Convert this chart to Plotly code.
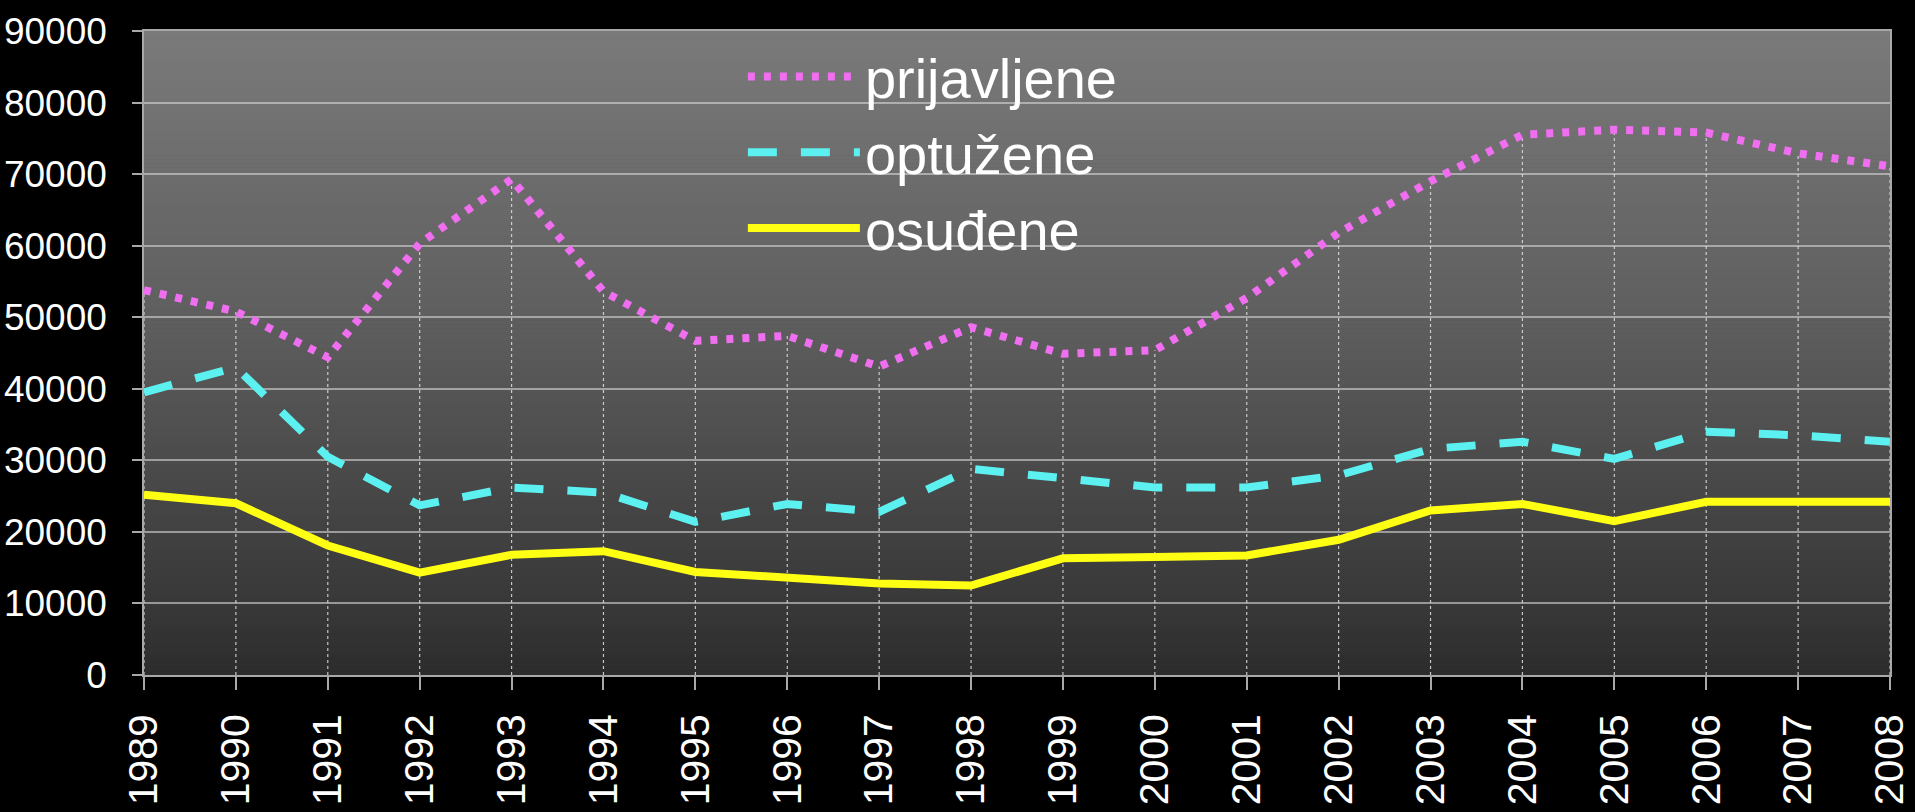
import plotly.graph_objects as go

years = list(range(1989, 2009))
prijavljene = [53800, 50800, 44400, 60300, 69300, 53600, 46700, 47400, 43100, 48600,
               44900, 45400, 52700, 61800, 69000, 75500, 76200, 75800, 72900, 71100]
optuzene = [39500, 43000, 30500, 23700, 26200, 25500, 21400, 23900, 22800, 28800,
            27500, 26200, 26200, 27900, 31600, 32600, 30200, 34000, 33500, 32600]
osudjene = [25200, 24000, 18100, 14300, 16800, 17300, 14400, 13500, 12800, 12500,
            16300, 16500, 16700, 18900, 23000, 23900, 21500, 24200, 24300, 24200]
series_names = ["prijavljene", "optužene", "osuđene"]
y_ticks = list(range(0, 90001, 10000))

FONT = "Liberation Sans, Arial, sans-serif"

fig = go.Figure()

# drop lines from the "prijavljene" series down to the axis
drop_x, drop_y = [], []
for yr, v in zip(years, prijavljene):
    drop_x += [yr, yr, None]
    drop_y += [0, v, None]
fig.add_trace(go.Scatter(x=drop_x, y=drop_y, mode="lines", showlegend=False,
                         hoverinfo="skip",
                         line=dict(color="rgba(225,225,225,0.85)", width=1.2, dash="3px,3px")))

fig.add_trace(go.Scatter(x=years, y=prijavljene, mode="lines", name=series_names[0],
                         line=dict(color="#f06ef0", width=8, dash="7px,9px")))
fig.add_trace(go.Scatter(x=years, y=optuzene, mode="lines", name=series_names[1],
                         line=dict(color="#5cf0f0", width=8, dash="29px,24px")))
fig.add_trace(go.Scatter(x=years, y=osudjene, mode="lines", name=series_names[2],
                         line=dict(color="#ffff14", width=8)))

# vertical gradient background for the plot area
stops = [(0.0, 122), (0.44, 95), (0.67, 75), (0.89, 56), (1.0, 44)]
def grey_at(t):
    for (t0, c0), (t1, c1) in zip(stops[:-1], stops[1:]):
        if t0 <= t <= t1:
            return c0 + (c1 - c0) * (t - t0) / (t1 - t0)
    return stops[-1][1]
N = 160
shapes = []
for i in range(N):
    top = 1 - i / N
    bot = 1 - (i + 1) / N
    g = int(round(grey_at((i + 0.5) / N)))
    shapes.append(dict(type="rect", xref="x domain", yref="y domain",
                       x0=0, x1=1, y0=bot, y1=top + 0.001, layer="below",
                       line=dict(width=0), fillcolor=f"rgb({g},{g},{g})"))

fig.update_layout(
    width=1915, height=812,
    paper_bgcolor="black", plot_bgcolor="rgb(80,80,80)",
    margin=dict(l=144, r=25, t=31, b=137, autoexpand=False),
    shapes=shapes,
    showlegend=True,
    legend=dict(x=0.343, y=0.996, xanchor="left", yanchor="top",
                bgcolor="rgba(0,0,0,0)", itemwidth=112,
                font=dict(family=FONT, size=56, color="white"),
                tracegroupgap=0),
    font=dict(family=FONT, color="white"),
)

fig.update_xaxes(range=[1989, 2008], tickmode="array", tickvals=years,
                 ticktext=[str(y) for y in years], tickangle=-90,
                 tickfont=dict(family=FONT, size=41, color="white"),
                 showgrid=False, zeroline=False,
                 showline=True, linecolor="#a8a8a8", linewidth=1.5, mirror=True,
                 ticks="outside", ticklen=13, tickcolor="#a8a8a8", tickwidth=1.5,
                 ticklabelstandoff=8)
fig.update_yaxes(range=[0, 90000], tickmode="array", tickvals=y_ticks,
                 ticktext=[str(v) for v in y_ticks],
                 tickfont=dict(family=FONT, size=37, color="white"),
                 showgrid=True, gridcolor="rgba(215,215,215,0.6)", gridwidth=1.5,
                 zeroline=False,
                 showline=True, linecolor="#a8a8a8", linewidth=1.5, mirror=True,
                 ticks="outside", ticklen=10, tickcolor="#a8a8a8", tickwidth=1.5,
                 ticklabelstandoff=18)

fig.write_html("out.html", config={"displayModeBar": False},
               post_script="document.body.style.margin='0';"
                           "document.body.style.background='black';")
